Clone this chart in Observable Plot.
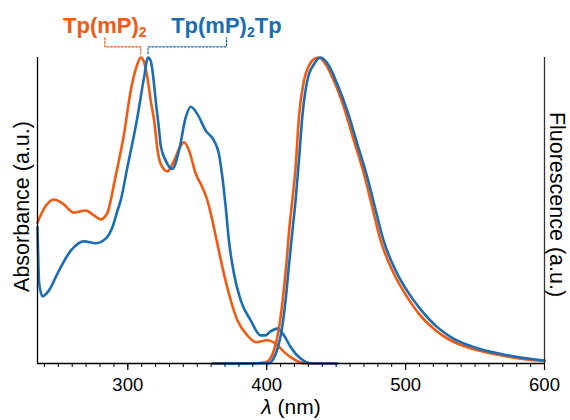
<!DOCTYPE html>
<html><head><meta charset="utf-8">
<script src="https://cdn.jsdelivr.net/npm/d3@7"></script>
<script src="https://cdn.jsdelivr.net/npm/@observablehq/plot@0.6"></script>
<style>body{margin:0;background:#fff;}</style>
</head><body><div id="chart"></div>
<script>
// ---- data (normalised intensities) ----
const seriesNames = ["Tp(mP)2", "Tp(mP)2Tp"];
const axisTitles = ["Absorbance (a.u.)", "Fluorescence (a.u.)", "λ (nm)"];
const majorTicks = [300, 400, 500, 600];

// Absorbance, Tp(mP)2
const absWlA = [235.0,239.7,246.9,253.0,261.3,269.7,275.7,280.5,285.4,287.7,290.1,297.3,302.1,306.9,309.3,311.4,314.1,316.5,319.0,321.3,323.7,328.5,333.3,338.1,340.5,344.1,348.9,353.7,357.3,360.9,364.5,368.1,372.8,378.9,386.1,392.1,400.5,406.4,412.4,417.2,426.8,438.8,449.6];
const absValA = [0.461,0.506,0.536,0.523,0.493,0.500,0.484,0.471,0.493,0.533,0.587,0.750,0.891,0.978,1.0,0.989,0.935,0.859,0.794,0.702,0.652,0.628,0.663,0.712,0.723,0.696,0.620,0.576,0.533,0.467,0.391,0.315,0.228,0.141,0.092,0.070,0.076,0.065,0.038,0.021,0.001,0,0];
// Absorbance, Tp(mP)2Tp
const absWlB = [235.0,236.2,238.6,243.3,249.4,259.0,268.5,276.9,284.1,289.0,292.6,294.9,299.7,306.9,311.7,314.6,316.5,318.9,320.1,322.5,323.7,327.3,332.1,336.9,341.7,345.3,350.1,356.1,362.1,365.6,368.1,370.5,372.8,376.4,381.3,388.5,395.6,399.2,402.8,407.7,412.4,417.2,424.4,431.6,450.8];
const absValB = [0.445,0.262,0.220,0.239,0.294,0.369,0.399,0.393,0.408,0.446,0.500,0.533,0.641,0.804,0.935,1.0,0.989,0.913,0.859,0.765,0.712,0.663,0.636,0.696,0.804,0.839,0.815,0.761,0.728,0.685,0.609,0.511,0.402,0.294,0.206,0.141,0.092,0.092,0.105,0.114,0.092,0.054,0.016,0.001,0];
// Fluorescence, Tp(mP)2
const flWlA = [361.1,388.5,399.2,402.8,405.7,408.6,411.5,414.4,416.5,418.5,420.8,423.2,426.8,430.4,434.0,437.6,442.4,448.4,455.6,462.8,470.0,476.0,482.0,491.5,501.2,509.5,521.5,532.3,546.7,568.3,582.7,600];
const flValA = [0,0,0.004,0.017,0.050,0.109,0.206,0.337,0.451,0.535,0.641,0.804,0.924,0.973,0.995,1.0,0.978,0.924,0.837,0.728,0.620,0.511,0.402,0.294,0.217,0.163,0.109,0.076,0.050,0.027,0.016,0.008];
// Fluorescence, Tp(mP)2Tp
const flWlB = [361.1,401.4,405.0,407.9,410.8,413.6,416.0,418.7,420.8,423.2,425.6,429.2,434.0,438.8,444.8,450.8,458.0,465.2,472.4,477.9,484.1,493.5,502.8,510.8,523.0,533.8,548.2,569.7,584.1,600];
const flValB = [0,0.001,0.017,0.050,0.109,0.206,0.320,0.441,0.533,0.663,0.804,0.924,0.978,1.0,0.973,0.913,0.826,0.718,0.609,0.511,0.402,0.298,0.226,0.177,0.118,0.083,0.055,0.030,0.019,0.010];

// ---- build tables ----
const toRows = (wl, v) => wl.map((x, i) => ({wl: x, v: v[i]}));
const absA = toRows(absWlA, absValA), absB = toRows(absWlB, absValB);
const flA = toRows(flWlA, flValA), flB = toRows(flWlB, flValB);

const ORANGE = "#f05a12", BLUE = "#1a6db3";
const FONT = "'Liberation Sans', Arial, Helvetica, sans-serif";
const xDomain = [235, 600];
const minorTicks = d3.range(240, 601, 10);

// header label anchors (annotation placement)
const labelX = [283.5, 371];
const labelY = 1.0815, brTop = 1.064, brMid = 1.035, brBot = 1.012;
const peakOf = rows => rows.reduce((a, b) => (b.v > a.v ? b : a)).wl;
const peakA = peakOf(absA), peakB = peakOf(absB);
const bracketA = [{wl: labelX[0], v: brTop}, {wl: labelX[0], v: brMid}, {wl: peakA, v: brMid}, {wl: peakA, v: brBot}];
const bracketB = [{wl: peakB, v: brBot}, {wl: peakB, v: brMid}, {wl: labelX[1], v: brMid}, {wl: labelX[1], v: brTop}];

const lineOpts = (stroke) => ({x: "wl", y: "v", stroke, strokeWidth: 2.6, curve: "monotone-x", strokeLinejoin: "round"});

const chart = Plot.plot({
  width: 570, height: 420,
  marginLeft: 37, marginRight: 26, marginTop: 57, marginBottom: 57,
  x: {domain: xDomain},
  y: {domain: [0, 1], axis: null},
  style: {fontFamily: FONT, color: "black", background: "white", overflow: "visible"},
  marks: [
    Plot.line(absA, lineOpts(ORANGE)),
    Plot.line(absB, lineOpts(BLUE)),
    Plot.line(flA, lineOpts(ORANGE)),
    Plot.line(flB, lineOpts(BLUE)),
    Plot.ruleX([xDomain[0]], {stroke: "black", strokeWidth: 1.3}),
    Plot.ruleX([xDomain[1]], {stroke: "#333", strokeWidth: 1.3}),
    Plot.ruleY([0], {stroke: "black", strokeWidth: 1.3}),
    Plot.axisX(minorTicks, {tickSize: 4, tickFormat: () => "", label: null, strokeWidth: 1}),
    Plot.axisX(majorTicks, {tickSize: 7, tickPadding: 7, fontSize: 18.5, label: null, strokeWidth: 1.2}),
    Plot.line(bracketA, {x: "wl", y: "v", stroke: ORANGE, strokeWidth: 1.2, strokeDasharray: "2,1.6"}),
    Plot.line(bracketB, {x: "wl", y: "v", stroke: BLUE, strokeWidth: 1.2, strokeDasharray: "2,1.6"}),
    Plot.text([{t: seriesNames[0], x: labelX[0]}], {x: "x", y: () => labelY, text: "t", fill: ORANGE, fontSize: 22, fontWeight: "bold", lineAnchor: "bottom", textAnchor: "middle"}),
    Plot.text([{t: seriesNames[1], x: labelX[1]}], {x: "x", y: () => labelY, text: "t", fill: BLUE, fontSize: 22, fontWeight: "bold", lineAnchor: "bottom", textAnchor: "middle"}),
    Plot.text([axisTitles[0]], {frameAnchor: "left", dx: -15, dy: -4, rotate: -90, textAnchor: "middle", fontSize: 21.5, text: d => d}),
    Plot.text([axisTitles[1]], {frameAnchor: "right", dx: 12, dy: -6, rotate: 90, textAnchor: "middle", fontSize: 21.5, text: d => d}),
    Plot.text([axisTitles[2]], {frameAnchor: "bottom", dy: 50, lineAnchor: "bottom", textAnchor: "middle", fontSize: 21, text: d => d})
  ]
});

// rich text: subscripts and italic lambda
const NS = "http://www.w3.org/2000/svg";
function rich(t, segs) {
  t.textContent = "";
  for (const s of segs) {
    const ts = document.createElementNS(NS, "tspan");
    ts.textContent = s.text;
    if (s.fontSize) ts.setAttribute("font-size", s.fontSize);
    if (s.dy) ts.setAttribute("dy", s.dy);
    if (s.italic) ts.setAttribute("font-style", "italic");
    t.appendChild(ts);
  }
}
for (const t of chart.querySelectorAll("text")) {
  const s = t.textContent;
  const m = /^(Tp\(mP\))(2)(.*)$/.exec(s);
  if (m) {
    const segs = [{text: m[1]}, {text: m[2], fontSize: "0.64em", dy: "4"}];
    if (m[3]) segs.push({text: m[3], dy: "-4"});
    rich(t, segs);
  } else if (s === axisTitles[2]) {
    rich(t, [{text: "λ", italic: true}, {text: s.slice(1)}]);
  }
}
document.getElementById("chart").appendChild(chart);
</script></body></html>
